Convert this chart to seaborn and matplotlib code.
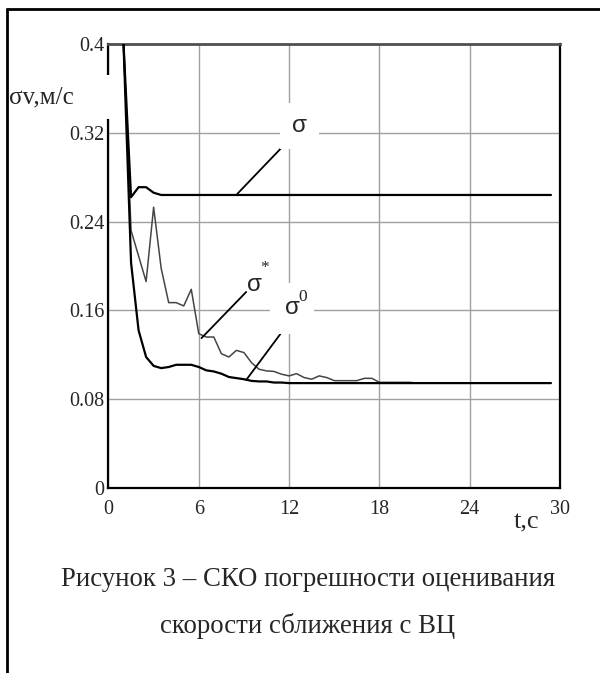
import numpy as np
import pandas as pd
import matplotlib
matplotlib.use('Agg')
import matplotlib.pyplot as plt
import seaborn as sns
from matplotlib.lines import Line2D
from matplotlib.patches import Rectangle

# sigma (theoretical) curve
t_sigma = [1.0, 1.5, 2.0, 2.5, 3.0, 3.5, 29.4]
v_sigma = [0.400, 0.262, 0.271, 0.271, 0.266, 0.264, 0.264]

# sigma* (estimated) curve
t_star = [1.0, 1.5, 2.0, 2.5, 3.0, 3.5, 4.0, 4.5, 5.0, 5.5, 6.0, 6.5, 7.0, 7.5,
          8.0, 8.5, 9.0, 9.5, 10.0, 10.5, 11.0, 11.5, 12.0, 12.5, 13.0, 13.5,
          14.0, 14.5, 15.0, 15.5, 16.0, 16.5, 17.0, 17.5, 18.0, 18.5, 19.0,
          19.5, 20.0, 20.5]
v_star = [0.400, 0.232, 0.209, 0.186, 0.253, 0.198, 0.167, 0.167, 0.164, 0.179,
          0.139, 0.136, 0.136, 0.121, 0.118, 0.124, 0.122, 0.113, 0.107, 0.1055,
          0.105, 0.1025, 0.101, 0.103, 0.0995, 0.098, 0.101, 0.0995, 0.0967,
          0.0967, 0.0967, 0.0967, 0.0988, 0.0988, 0.0952, 0.0952, 0.0952,
          0.0952, 0.0952, 0.0945]

# sigma0 curve
t_zero = [1.0, 1.5, 2.0, 2.5, 3.0, 3.5, 4.0, 4.5, 5.0, 5.5, 6.0, 6.5, 7.0, 7.5,
          8.0, 8.5, 9.0, 9.5, 10.0, 10.5, 11.0, 11.5, 12.0, 29.4]
v_zero = [0.400, 0.203, 0.142, 0.118, 0.110, 0.108, 0.109, 0.111, 0.111, 0.111,
          0.109, 0.106, 0.105, 0.103, 0.100, 0.099, 0.098, 0.0965, 0.096, 0.096,
          0.095, 0.095, 0.0945, 0.0945]

x_ticks = [0, 6, 12, 18, 24, 30]
y_ticks = [0, 0.08, 0.16, 0.24, 0.32, 0.4]
y_tick_labels = ['0', '0.08', '0.16', '0.24', '0.32', '0.4']

caption = ['Рисунок 3 – СКО погрешности оценивания',
           'скорости сближения с ВЦ']

sns.set_style('white')
plt.rcParams['font.family'] = ['Liberation Serif', 'DejaVu Serif']

fig = plt.figure(figsize=(6.0, 6.73), dpi=100)
ax = fig.add_axes([0.1808, 0.2749, 0.7525, 0.6597])

df_sigma = pd.DataFrame({'t': t_sigma, 'v': v_sigma})
df_star = pd.DataFrame({'t': t_star, 'v': v_star})
df_zero = pd.DataFrame({'t': t_zero, 'v': v_zero})

sns.lineplot(data=df_star, x='t', y='v', ax=ax, color='#454545', linewidth=1.1,
             sort=False, estimator=None, zorder=3)
sns.lineplot(data=df_zero, x='t', y='v', ax=ax, color='black', linewidth=1.6,
             sort=False, estimator=None, zorder=4)
sns.lineplot(data=df_sigma, x='t', y='v', ax=ax, color='black', linewidth=1.6,
             sort=False, estimator=None, zorder=4)

ax.set_xlim(0, 30)
ax.set_ylim(0, 0.4)
ax.set_xticks(x_ticks)
ax.set_xticklabels([str(x) for x in x_ticks])
ax.set_yticks(y_ticks)
ax.set_yticklabels(y_tick_labels)
ax.tick_params(axis='both', length=0, labelsize=14.5)
ax.tick_params(axis='y', pad=3)
ax.tick_params(axis='x', pad=9)
ax.set_xlabel('')
ax.set_ylabel('')
ax.grid(True, color='#a0a0a0', linewidth=1.0)
ax.set_axisbelow(True)
for side in ['left', 'right', 'bottom', 'top']:
    ax.spines[side].set_visible(True)
    ax.spines[side].set_color('black')
    ax.spines[side].set_linewidth(1.6)
ax.spines['top'].set_color('#505050')
ax.spines['top'].set_linewidth(2.0)

# annotation leader lines
ax.plot([8.56, 11.6], [0.265, 0.308], color='black', linewidth=1.3, zorder=5)
ax.plot([6.18, 9.15], [0.135, 0.1766], color='black', linewidth=1.3, zorder=5)
ax.plot([9.15, 11.6], [0.0973, 0.142], color='black', linewidth=1.3, zorder=5)

box = dict(facecolor='white', edgecolor='none', boxstyle='square,pad=0.5')
ax.text(12.7, 0.326, 'σ', family=['Liberation Sans'], fontsize=17.5,
        ha='center', va='center', zorder=6, bbox=box)
ax.text(9.68, 0.183, 'σ', family=['Liberation Sans'], fontsize=17.5,
        ha='center', va='center', zorder=6)
ax.text(10.4, 0.198, '*', fontsize=12.5, ha='center', va='center', zorder=6)
ax.text(12.2, 0.162, 'σ', family=['Liberation Sans'], fontsize=17.5,
        ha='center', va='center', zorder=6,
        bbox=dict(facecolor='white', edgecolor='none', boxstyle='square,pad=0.6'))
ax.text(12.9, 0.172, '0', fontsize=12.5, ha='center', va='center', zorder=7)

# gap in left spine behind the axis label
fig.add_artist(Rectangle((100 / 600, 1 - 119 / 673), 16 / 600, 44 / 673,
                         transform=fig.transFigure, facecolor='white',
                         edgecolor='none', zorder=10))
fig.text(8.5 / 600, 1 - 97 / 673, 'σv,м/с', fontsize=18, ha='left', va='center',
         family=['Liberation Serif', 'DejaVu Serif'], zorder=11)
fig.text(527 / 600, 1 - 522 / 673, 't,c', fontsize=19, ha='center', va='center')

fig.text(308 / 600, 1 - 580 / 673, caption[0], fontsize=19.3, ha='center', va='center')
fig.text(308 / 600, 1 - 626 / 673, caption[1], fontsize=19.3, ha='center', va='center')

# outer frame (left and top edges)
fig.add_artist(Line2D([7 / 600, 7 / 600], [0, 1 - 9 / 673], color='black',
                      linewidth=2.0, transform=fig.transFigure))
fig.add_artist(Line2D([7 / 600, 1], [1 - 9 / 673, 1 - 9 / 673], color='black',
                      linewidth=2.0, transform=fig.transFigure))

fig.savefig('out.png', dpi=100)
